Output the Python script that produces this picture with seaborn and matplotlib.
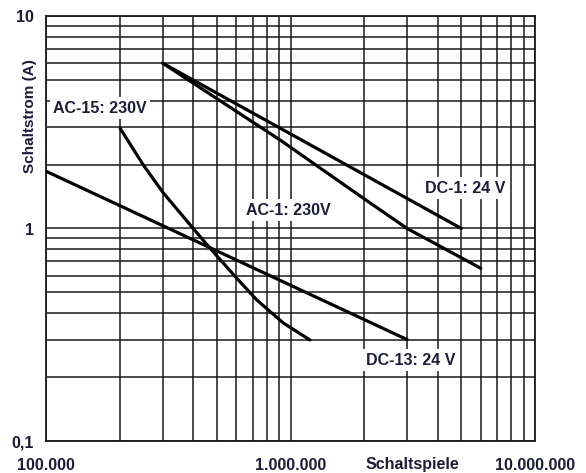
import numpy as np
import pandas as pd
import seaborn as sns
import matplotlib
matplotlib.use('Agg')
import matplotlib.pyplot as plt
from matplotlib.ticker import LogLocator, NullFormatter, FixedLocator, FixedFormatter

# Lebensdauerkurven (Schaltspiele vs. Schaltstrom)
dc1_x = [3e5, 5e6]
dc1_y = [6.0, 1.0]

ac1_x = [3e5, 9.06e5, 2.0e6, 3.0e6, 6.0e6]
ac1_y = [6.0, 2.61, 1.38, 1.0, 0.65]

ac15_x = [2.01e5, 2.5e5, 3.02e5, 4.0e5, 4.69e5, 6.03e5, 7.28e5, 9.35e5, 1.2e6]
ac15_y = [2.96, 1.99, 1.47, 1.0, 0.807, 0.583, 0.461, 0.359, 0.299]

dc13_x = [1e5, 3e6]
dc13_y = [1.86, 0.30]

x_ticks = [1e5, 1e6, 1e7]
x_labels = ['100.000', '1.000.000', '10.000.000']
y_ticks = [0.1, 1, 10]
y_labels = ['0,1', '1', '10']

frames = []
for name, xs, ys in [('DC-1', dc1_x, dc1_y), ('AC-1', ac1_x, ac1_y),
                     ('AC-15', ac15_x, ac15_y), ('DC-13', dc13_x, dc13_y)]:
    frames.append(pd.DataFrame({'kurve': name, 'schaltspiele': xs, 'strom': ys}))
df = pd.concat(frames, ignore_index=True)

sns.set_style('white')
plt.rcParams['font.family'] = ['Liberation Sans', 'DejaVu Sans']
txt = '#1c1c3a'

fig = plt.figure(figsize=(5.86, 4.73), dpi=100)
ax = fig.add_axes([46 / 586, 1 - 441 / 473, 489 / 586, 425 / 473])

sns.lineplot(data=df, x='schaltspiele', y='strom', units='kurve', estimator=None,
             color='black', linewidth=2.3, sort=False, ax=ax, zorder=5)
for l in ax.lines:
    l.set_solid_joinstyle('round')

ax.set_xscale('log')
ax.set_yscale('log')
ax.set_xlim(1e5, 1e7)
ax.set_ylim(0.1, 10)

ax.xaxis.set_major_locator(FixedLocator(x_ticks))
ax.xaxis.set_major_formatter(FixedFormatter(x_labels))
ax.yaxis.set_major_locator(FixedLocator(y_ticks))
ax.yaxis.set_major_formatter(FixedFormatter(y_labels))
ax.xaxis.set_minor_locator(LogLocator(base=10, subs=np.arange(2, 10)))
ax.yaxis.set_minor_locator(LogLocator(base=10, subs=np.arange(2, 10)))
ax.xaxis.set_minor_formatter(NullFormatter())
ax.yaxis.set_minor_formatter(NullFormatter())

ax.grid(True, which='both', color='#1a1a1a', linewidth=1.1)
ax.tick_params(which='both', length=0)
ax.tick_params(axis='x', pad=12.5, labelsize=11.5, labelcolor=txt)
ax.tick_params(axis='y', pad=8.5, labelsize=11.5, labelcolor=txt)
for lbl in ax.get_xticklabels() + ax.get_yticklabels():
    lbl.set_fontweight('bold')
for s in ax.spines.values():
    s.set_color('#1a1a1a')
    s.set_linewidth(1.3)
ax.set_xlabel('')
ax.set_ylabel('')

box = dict(facecolor='white', edgecolor='none', pad=2.5)
ax.text(1.07e5, 3.69, 'AC-15: 230V', fontsize=11.5, fontweight='bold', color=txt,
        va='center', ha='left', bbox=box, zorder=6)
ax.text(9.8e5, 1.22, 'AC-1: 230V', fontsize=11.5, fontweight='bold', color=txt,
        va='center', ha='center', bbox=box, zorder=6)
ax.text(5.17e6, 1.55, 'DC-1: 24 V', fontsize=11.5, fontweight='bold', color=txt,
        va='center', ha='center', bbox=box, zorder=6)
ax.text(3.1e6, 0.24, 'DC-13: 24 V', fontsize=11.5, fontweight='bold', color=txt,
        va='center', ha='center', bbox=box, zorder=6)

fig.text(30 / 586, 1 - 116 / 473, 'Schaltstrom (A)', rotation=90, fontsize=11,
         fontweight='bold', color=txt, ha='center', va='center')
fig.text(412 / 586, 1 - 464 / 473, 'Schaltspiele', fontsize=11.5,
         fontweight='bold', color=txt, ha='center', va='center')

fig.savefig('out.png', dpi=100)
